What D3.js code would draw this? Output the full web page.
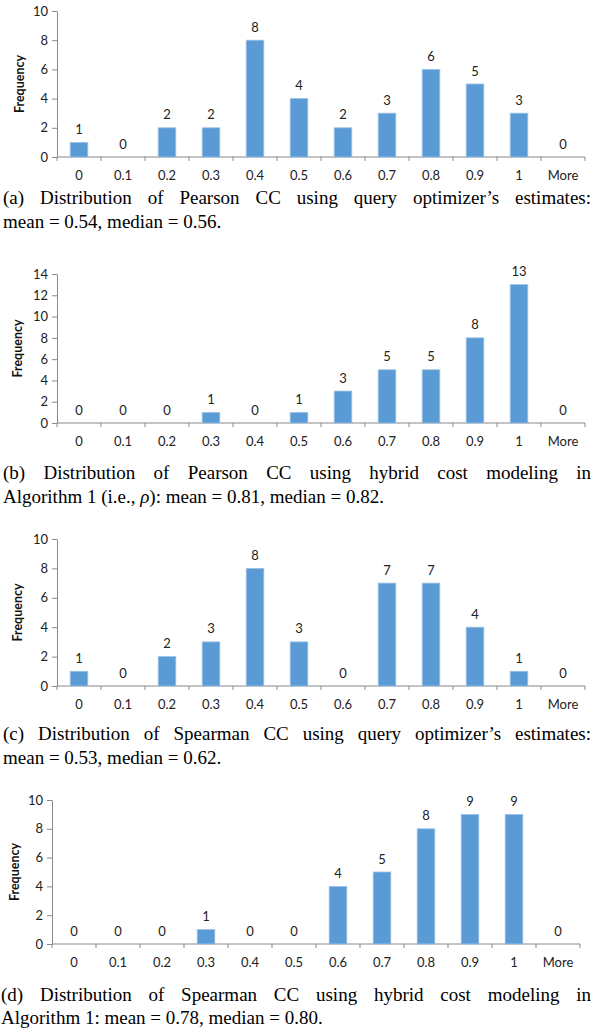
<!DOCTYPE html>
<html>
<head>
<meta charset="utf-8">
<script src="https://cdn.jsdelivr.net/npm/d3@7"></script>
<style>
  html, body { margin: 0; padding: 0; background: #fff; }
  svg { display: block; }
</style>
</head>
<body>
<svg id="fig" width="595" height="1029"></svg>
<script>
// Histogram bins shared by all four panels
const categories = ["0", "0.1", "0.2", "0.3", "0.4", "0.5", "0.6", "0.7", "0.8", "0.9", "1", "More"];

// Frequencies per bin
const pearsonOptimizer = [1, 0, 2, 2, 8, 4, 2, 3, 6, 5, 3, 0];
const pearsonHybrid    = [0, 0, 0, 1, 0, 1, 3, 5, 5, 8, 13, 0];
const spearmanOptimizer = [1, 0, 2, 3, 8, 3, 0, 7, 7, 4, 1, 0];
const spearmanHybrid    = [0, 0, 0, 1, 0, 0, 4, 5, 8, 9, 9, 0];

// Y tick labels
const ticksTo10 = [0, 2, 4, 6, 8, 10];
const ticksTo14 = [0, 2, 4, 6, 8, 10, 12, 14];

// Caption text (first line is justified, second line left aligned)
const captionA = [["(a)", "Distribution", "of", "Pearson", "CC", "using", "query", "optimizer’s", "estimates:"],
                  [{t: "mean = 0.54, median = 0.56."}]];
const captionB = [["(b)", "Distribution", "of", "Pearson", "CC", "using", "hybrid", "cost", "modeling", "in"],
                  [{t: "Algorithm 1 (i.e., "}, {t: "ρ", i: true}, {t: "): mean = 0.81, median = 0.82."}]];
const captionC = [["(c)", "Distribution", "of", "Spearman", "CC", "using", "query", "optimizer’s", "estimates:"],
                  [{t: "mean = 0.53, median = 0.62."}]];
const captionD = [["(d)", "Distribution", "of", "Spearman", "CC", "using", "hybrid", "cost", "modeling", "in"],
                  [{t: "Algorithm 1: mean = 0.78, median = 0.80."}]];

const panels = [
  {values: pearsonOptimizer,  ticks: ticksTo10, left: 57, top: 11,  bottom: 157, labelX: 20, cap: captionA, capY: [197, 221], capX: 3},
  {values: pearsonHybrid,     ticks: ticksTo14, left: 57, top: 274, bottom: 423, labelX: 18, cap: captionB, capY: [472, 496], capX: 3},
  {values: spearmanOptimizer, ticks: ticksTo10, left: 57, top: 539, bottom: 686, labelX: 18, cap: captionC, capY: [733, 757], capX: 3},
  {values: spearmanHybrid,    ticks: ticksTo10, left: 52, top: 800, bottom: 944, labelX: 15, cap: captionD, capY: [994, 1017], capX: 1}
];

const svg = d3.select("#fig");
const bandWidth = 44;
const barFill = "#5B9BD5";
const axisColor = "#898989";
const uiFont = "Lato, 'Open Sans', sans-serif";
const serif = "'Liberation Serif', 'Times New Roman', serif";
const uiSize = "13px";
const capSize = 19;
const capRight = 591;

panels.forEach(p => {
  const g = svg.append("g");
  const yMax = d3.max(p.ticks);
  const x = d3.scaleBand()
    .domain(categories)
    .range([p.left, p.left + bandWidth * categories.length])
    .paddingInner(0.6).paddingOuter(0.3);
  const y = d3.scaleLinear().domain([0, yMax]).range([p.bottom, p.top]);

  // Y axis
  const yAxis = g.append("g")
    .attr("transform", `translate(${p.left},0)`)
    .call(d3.axisLeft(y).tickValues(p.ticks).tickSize(5).tickPadding(4).tickSizeOuter(0));
  yAxis.select(".domain").attr("stroke", axisColor);
  yAxis.selectAll(".tick line").attr("stroke", axisColor);
  yAxis.selectAll(".tick text")
    .attr("fill", "#222").style("font-family", uiFont).style("font-size", uiSize);

  // X axis line with bin-boundary ticks below
  const x0 = p.left, x1 = p.left + bandWidth * categories.length;
  g.append("line").attr("x1", x0).attr("x2", x1).attr("y1", p.bottom).attr("y2", p.bottom)
    .attr("stroke", axisColor);
  const bounds = d3.range(categories.length + 1).map(i => x0 + i * bandWidth);
  g.selectAll(".xb").data(bounds).join("line")
    .attr("x1", d => d).attr("x2", d => d)
    .attr("y1", p.bottom).attr("y2", p.bottom + 4)
    .attr("stroke", axisColor);
  g.selectAll(".xl").data(categories).join("text")
    .attr("x", d => x(d) + x.bandwidth() / 2)
    .attr("y", p.bottom + 18)
    .attr("dy", "0.35em")
    .attr("text-anchor", "middle")
    .attr("fill", "#222")
    .style("font-family", uiFont).style("font-size", uiSize)
    .text(d => d);

  // Bars
  g.selectAll(".bar").data(p.values.map((v, i) => ({c: categories[i], v})).filter(d => d.v > 0))
    .join("rect")
    .attr("x", d => x(d.c))
    .attr("y", d => y(d.v))
    .attr("width", x.bandwidth())
    .attr("height", d => y(0) - y(d.v))
    .attr("fill", barFill)
    .attr("stroke", "#9CC2E5").attr("stroke-width", 0.8);

  // Value labels above bars
  g.selectAll(".val").data(p.values.map((v, i) => ({c: categories[i], v})))
    .join("text")
    .attr("x", d => x(d.c) + x.bandwidth() / 2)
    .attr("y", d => y(d.v) - 13)
    .attr("dy", "0.35em")
    .attr("text-anchor", "middle")
    .attr("fill", "#222")
    .style("font-family", uiFont).style("font-size", uiSize)
    .text(d => d.v);

  // Y axis title
  g.append("text")
    .attr("transform", `translate(${p.labelX},${(p.top + p.bottom) / 2}) rotate(-90)`)
    .attr("dy", "0.35em")
    .attr("text-anchor", "middle")
    .attr("fill", "#111")
    .style("font-family", uiFont).style("font-size", "12.5px").style("font-weight", "bold")
    .text("Frequency");

  // Caption: first line justified across the column
  const words = p.cap[0];
  const wg = g.append("g");
  const nodes = words.map(w => wg.append("text")
    .attr("y", p.capY[0]).attr("dy", "0.35em")
    .attr("fill", "#000")
    .style("font-family", serif).style("font-size", capSize + "px")
    .text(w));
  const widths = nodes.map(n => n.node().getComputedTextLength());
  const total = d3.sum(widths);
  const gap = (capRight - p.capX - total) / (words.length - 1);
  let cx = p.capX;
  nodes.forEach((n, i) => { n.attr("x", cx); cx += widths[i] + gap; });

  // Caption: second line
  const t2 = g.append("text")
    .attr("x", p.capX).attr("y", p.capY[1]).attr("dy", "0.35em")
    .attr("fill", "#000")
    .style("font-family", serif).style("font-size", capSize + "px");
  p.cap[1].forEach(s => {
    t2.append("tspan").style("font-style", s.i ? "italic" : "normal").text(s.t);
  });
});
</script>
</body>
</html>
